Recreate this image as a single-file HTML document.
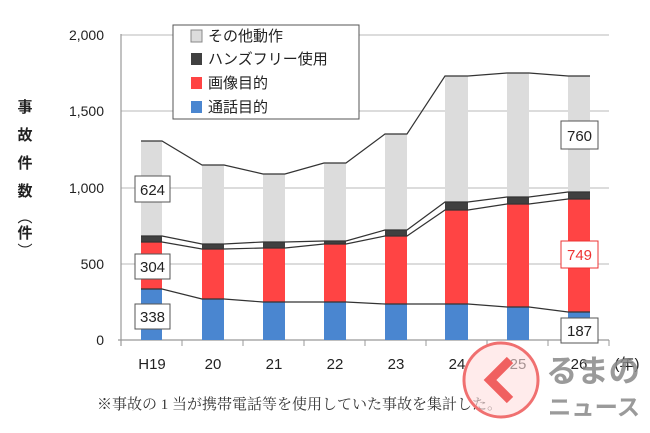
<!DOCTYPE html>
<html><head><meta charset="utf-8"><style>
body{margin:0;background:#fff;}
svg{display:block;font-family:"Liberation Sans","Noto Sans CJK JP",sans-serif;}
</style></head><body>
<svg width="650" height="433" viewBox="0 0 650 433" xmlns="http://www.w3.org/2000/svg">
<rect width="650" height="433" fill="#fff"/>
<g stroke="#c8c8c8" stroke-width="1.2">
<line x1="121" y1="35" x2="609" y2="35"/>
<line x1="121" y1="111" x2="609" y2="111"/>
<line x1="121" y1="188" x2="609" y2="188"/>
<line x1="121" y1="264" x2="609" y2="264"/>
</g>
<line x1="121" y1="34" x2="121" y2="346" stroke="#999" stroke-width="1.2"/>
<line x1="118" y1="340" x2="609" y2="340" stroke="#999" stroke-width="1.2"/>
<g stroke="#999"><line x1="182" y1="340" x2="182" y2="346"/><line x1="243" y1="340" x2="243" y2="346"/><line x1="304" y1="340" x2="304" y2="346"/><line x1="365" y1="340" x2="365" y2="346"/><line x1="426" y1="340" x2="426" y2="346"/><line x1="487" y1="340" x2="487" y2="346"/><line x1="548" y1="340" x2="548" y2="346"/><line x1="609" y1="340" x2="609" y2="346"/></g>
<g font-size="14" fill="#222" text-anchor="end">
<text x="104" y="40">2,000</text><text x="104" y="116">1,500</text><text x="104" y="193">1,000</text><text x="104" y="269">500</text><text x="104" y="345">0</text>
</g>
<g font-size="15" fill="#222" font-weight="bold" text-anchor="middle">
<text x="25" y="112">事</text><text x="25" y="140">故</text><text x="25" y="168">件</text><text x="25" y="196">数</text>
<text x="25" y="222" font-weight="normal">︵</text><text x="25" y="238">件</text><text x="25" y="256" font-weight="normal">︶</text>
</g>
<g stroke="none">
<rect x="141" y="141" width="21" height="199" fill="#dcdcdc"/><rect x="141" y="236" width="21" height="6" fill="#404040"/><rect x="141" y="242" width="21" height="47" fill="#f44"/><rect x="141" y="289" width="21" height="51" fill="#4a86d0"/>
<rect x="202" y="165" width="22" height="175" fill="#dcdcdc"/><rect x="202" y="244" width="22" height="5" fill="#404040"/><rect x="202" y="249" width="22" height="50" fill="#f44"/><rect x="202" y="299" width="22" height="41" fill="#4a86d0"/>
<rect x="263" y="174" width="22" height="166" fill="#dcdcdc"/><rect x="263" y="242" width="22" height="6" fill="#404040"/><rect x="263" y="248" width="22" height="54" fill="#f44"/><rect x="263" y="302" width="22" height="38" fill="#4a86d0"/>
<rect x="324" y="163" width="22" height="177" fill="#dcdcdc"/><rect x="324" y="241" width="22" height="3" fill="#404040"/><rect x="324" y="244" width="22" height="58" fill="#f44"/><rect x="324" y="302" width="22" height="38" fill="#4a86d0"/>
<rect x="385" y="134" width="22" height="206" fill="#dcdcdc"/><rect x="385" y="230" width="22" height="6" fill="#404040"/><rect x="385" y="236" width="22" height="68" fill="#f44"/><rect x="385" y="304" width="22" height="36" fill="#4a86d0"/>
<rect x="445" y="76" width="23" height="264" fill="#dcdcdc"/><rect x="445" y="202" width="23" height="8" fill="#404040"/><rect x="445" y="210" width="23" height="94" fill="#f44"/><rect x="445" y="304" width="23" height="36" fill="#4a86d0"/>
<rect x="507" y="73" width="22" height="267" fill="#dcdcdc"/><rect x="507" y="197" width="22" height="7" fill="#404040"/><rect x="507" y="204" width="22" height="103" fill="#f44"/><rect x="507" y="307" width="22" height="33" fill="#4a86d0"/>
<rect x="568" y="76" width="22" height="264" fill="#dcdcdc"/><rect x="568" y="192" width="22" height="7" fill="#404040"/><rect x="568" y="199" width="22" height="113" fill="#f44"/><rect x="568" y="312" width="22" height="28" fill="#4a86d0"/>
</g>
<g fill="none" stroke="#333" stroke-width="1.2">
<polyline points="141,141 162,141 202,165 224,165 263,174 285,174 324,163 346,163 385,134 407,134 445,76 468,76 507,73 529,73 568,76 590,76"/>
<polyline points="141,236 162,236 202,244 224,244 263,242 285,242 324,241 346,241 385,230 407,230 445,202 468,202 507,197 529,197 568,192 590,192"/>
<polyline points="141,242 162,242 202,249 224,249 263,248 285,248 324,244 346,244 385,236 407,236 445,210 468,210 507,204 529,204 568,199 590,199"/>
<polyline points="141,289 162,289 202,299 224,299 263,302 285,302 324,302 346,302 385,304 407,304 445,304 468,304 507,307 529,307 568,312 590,312"/>
</g>
<g font-size="15" text-anchor="middle">
<rect x="135" y="176" width="35" height="26" fill="#fff" stroke="#555"/><text x="152.5" y="195" fill="#222">624</text>
<rect x="135" y="254" width="35" height="25" fill="#fff" stroke="#555"/><text x="152.5" y="272" fill="#222">304</text>
<rect x="135" y="304" width="35" height="25" fill="#fff" stroke="#555"/><text x="152.5" y="322" fill="#222">338</text>
<rect x="561" y="121" width="37" height="28" fill="#fff" stroke="#555"/><text x="579.5" y="141" fill="#222">760</text>
<rect x="561" y="241" width="37" height="27" fill="#fff" stroke="#e33"/><text x="579.5" y="260" fill="#e33">749</text>
<rect x="561" y="318" width="37" height="25" fill="#fff" stroke="#555"/><text x="579.5" y="336" fill="#222">187</text>
</g>
<rect x="173" y="25" width="186" height="94" fill="#fff" stroke="#555"/>
<g font-size="15" fill="#222">
<rect x="191" y="30" width="11" height="12" fill="#dcdcdc" stroke="#888"/><text x="208" y="41">その他動作</text>
<rect x="191" y="53" width="11" height="12" fill="#404040"/><text x="208" y="64">ハンズフリー使用</text>
<rect x="191" y="77" width="11" height="12" fill="#f44"/><text x="208" y="88">画像目的</text>
<rect x="191" y="101" width="11" height="12" fill="#4a86d0"/><text x="208" y="112">通話目的</text>
</g>
<g font-size="15" fill="#222" text-anchor="middle">
<text x="152" y="369">H19</text><text x="213" y="369">20</text><text x="274" y="369">21</text><text x="335" y="369">22</text><text x="396" y="369">23</text><text x="457" y="369">24</text><text x="518" y="369">25</text><text x="579" y="369">26</text><text x="627" y="369">(年)</text>
</g>
<text x="97" y="409" font-size="15" fill="#333" font-family="'Liberation Serif','Noto Serif CJK SC',serif">※事故の 1 当が携帯電話等を使用していた事故を集計した。</text>
<circle cx="501" cy="380" r="37" fill="#ffdede" fill-opacity="0.6" stroke="#f07070" stroke-width="3"/>
<polyline points="510,360 490,380 510,400" fill="none" stroke="#f06060" stroke-width="9"/>
<g fill="#888" fill-opacity="0.85" font-weight="bold">
<text x="546" y="382" font-size="31" textLength="94" lengthAdjust="spacingAndGlyphs">るまの</text>
<text x="548" y="415" font-size="23" textLength="92" lengthAdjust="spacingAndGlyphs">ニュース</text>
</g>
</svg>
</body></html>
